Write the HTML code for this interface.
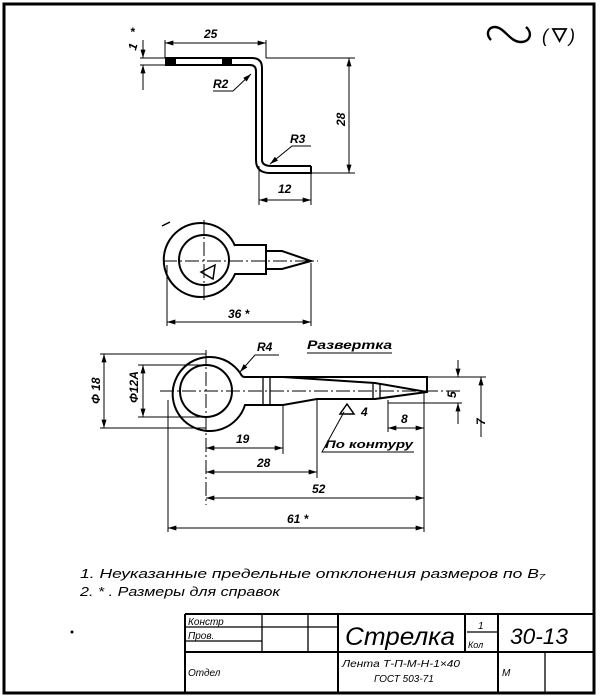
<!DOCTYPE html>
<html><head><meta charset="utf-8"><style>
html,body{margin:0;padding:0;background:#fff}
svg{display:block}
text{font-family:"Liberation Sans","DejaVu Sans",sans-serif;font-style:italic;fill:#000}
</style></head><body>
<svg width="602" height="700" viewBox="0 0 602 700" xmlns="http://www.w3.org/2000/svg">
<defs>
<marker id="a" viewBox="0 0 10 6" refX="10" refY="3" markerWidth="9" markerHeight="5" orient="auto-start-reverse"><path d="M0,0L10,3L0,6z" fill="#000"/></marker>
</defs>
<g fill="none" stroke="#000">
<rect x="4" y="4" width="590" height="689" stroke-width="3"/>
<g stroke-width="2">
<line x1="185" y1="614" x2="594" y2="614"/>
<line x1="185" y1="652" x2="594" y2="652"/>
<line x1="185" y1="614" x2="185" y2="693"/>
<line x1="338" y1="614" x2="338" y2="693"/>
<line x1="465" y1="614" x2="465" y2="652"/>
<line x1="498" y1="614" x2="498" y2="693"/>
</g>
<g stroke-width="1.3">
<line x1="185" y1="627" x2="338" y2="627"/>
<line x1="185" y1="641" x2="262" y2="641"/>
<line x1="262" y1="614" x2="262" y2="652"/>
<line x1="308" y1="614" x2="308" y2="652"/>
<line x1="545" y1="652" x2="545" y2="693"/>
<line x1="467" y1="632" x2="497" y2="632"/>
</g>

<g stroke-width="2">
<path d="M165,58 H252 Q262,58 262,68 V160 Q262,166 272,166 H311"/>
<path d="M165,65 H250 Q256,65 256,71 V160 Q256,173 270,173 H311 V166"/>
</g>
<rect x="165" y="58" width="11" height="7" fill="#000" stroke="none"/>
<rect x="222" y="58" width="10" height="7" fill="#000" stroke="none"/>
<g stroke-width="1">
<line x1="140" y1="58" x2="165" y2="58"/><line x1="140" y1="65" x2="165" y2="65"/>
<line x1="143" y1="40" x2="143" y2="58" marker-end="url(#a)"/>
<line x1="143" y1="90" x2="143" y2="65" marker-end="url(#a)"/>
<line x1="165" y1="40" x2="165" y2="58"/><line x1="266" y1="40" x2="266" y2="58"/>
<line x1="165" y1="43" x2="266" y2="43" marker-start="url(#a)" marker-end="url(#a)"/>
<line x1="266" y1="58" x2="355" y2="58"/><line x1="311" y1="173" x2="355" y2="173"/>
<line x1="349" y1="58" x2="349" y2="173" marker-start="url(#a)" marker-end="url(#a)"/>
<line x1="259" y1="166" x2="259" y2="205"/><line x1="311" y1="173" x2="311" y2="205"/>
<line x1="259" y1="200" x2="311" y2="200" marker-start="url(#a)" marker-end="url(#a)"/>
<polyline points="213,91 233,91 251,74" marker-end="url(#a)"/>
<polyline points="311,146 292,146 270,164" marker-end="url(#a)"/>
</g>

<g stroke-width="2">
<path d="M235,246 A37,37 0 1 0 235,274 L266,274 V245 L235,245"/>
<circle cx="204" cy="260" r="25"/>
<path d="M266,251 H282 L311,261 L282,269 H266"/>
</g>
<g stroke-width="1">
<line x1="163" y1="261" x2="318" y2="261" stroke-dasharray="14,3,2,3"/>
<line x1="204" y1="220" x2="204" y2="300" stroke-dasharray="14,3,2,3"/>
<line x1="167" y1="265" x2="167" y2="326"/><line x1="311" y1="263" x2="311" y2="326"/>
<line x1="167" y1="322" x2="311" y2="322" marker-start="url(#a)" marker-end="url(#a)"/>
<path d="M201,272 L215,265 L213,279 Z" stroke-width="1.5"/>
<line x1="162" y1="226" x2="170" y2="222" stroke-width="1.5"/>
</g>

<g stroke-width="2">
<path d="M242,376 A37,37 0 1 0 245,405 L283,405 L317,399 L375,399 L427,392 L427,377 H245 Q243,377 242,376"/>
<circle cx="206" cy="391" r="26"/>
<path d="M283,377 L375,383 L427,392"/>
<line x1="263" y1="377" x2="263" y2="405" stroke-width="1.3"/>
<line x1="270" y1="377" x2="270" y2="404" stroke-width="1.3"/>
<line x1="373" y1="382" x2="373" y2="399" stroke-width="1.3"/>
<line x1="380" y1="383" x2="380" y2="399" stroke-width="1.3"/>
</g>
<g stroke-width="1">
<line x1="160" y1="391" x2="460" y2="391" stroke-dasharray="14,3,2,3"/>
<line x1="206" y1="350" x2="206" y2="505" stroke-dasharray="14,3,2,3"/>
<line x1="100" y1="354" x2="206" y2="354"/><line x1="100" y1="428" x2="206" y2="428"/>
<line x1="104" y1="354" x2="104" y2="428" marker-start="url(#a)" marker-end="url(#a)"/>
<line x1="138" y1="365" x2="206" y2="365"/><line x1="138" y1="417" x2="206" y2="417"/>
<line x1="143" y1="365" x2="143" y2="417" marker-start="url(#a)" marker-end="url(#a)"/>
<polyline points="279,355 255,355 240,372" marker-end="url(#a)"/>
<line x1="307" y1="353" x2="392" y2="353"/>
<line x1="427" y1="377" x2="486" y2="377"/><line x1="388" y1="403" x2="462" y2="403"/>
<line x1="458" y1="360" x2="458" y2="377" marker-end="url(#a)"/>
<line x1="458" y1="424" x2="458" y2="403" marker-end="url(#a)"/>
<line x1="481" y1="377" x2="481" y2="437" marker-start="url(#a)"/>
<line x1="388" y1="400" x2="388" y2="432"/><line x1="424" y1="393" x2="424" y2="532"/>
<line x1="388" y1="428" x2="424" y2="428" marker-start="url(#a)" marker-end="url(#a)"/>
<path d="M347,404 L340,414 L354,414 Z" stroke-width="1.5"/>
<polyline points="344,412 322,452 414,452"/>
<line x1="283" y1="405" x2="283" y2="454"/>
<line x1="206" y1="448" x2="283" y2="448" marker-start="url(#a)" marker-end="url(#a)"/>
<line x1="317" y1="400" x2="317" y2="478"/>
<line x1="206" y1="472" x2="317" y2="472" marker-start="url(#a)" marker-end="url(#a)"/>
<line x1="206" y1="498" x2="424" y2="498" marker-start="url(#a)" marker-end="url(#a)"/>
<line x1="168" y1="400" x2="168" y2="532"/>
<line x1="168" y1="528" x2="424" y2="528" marker-start="url(#a)" marker-end="url(#a)"/>
</g>
<path d="M491,40 C484,33 490,24 499,28 C506,31 511,42 521,42 C530,42 533,33 526,27" stroke-width="2.4"/>
<path d="M553,29 L566,29 L559.5,41 Z" stroke-width="1.8"/>
</g>
<circle cx="72" cy="632" r="1.5" fill="#000"/>

<g font-size="12" font-weight="bold">
<text x="130" y="36">*</text>
<text x="129" y="50" transform="rotate(-75 133 46)">1</text>
<text x="204" y="38">25</text>
<text x="213" y="88">R2</text>
<text x="290" y="143">R3</text>
<text x="278" y="193">12</text>
<text x="0" y="0" transform="translate(345,126) rotate(-90)">28</text>
<text x="228" y="318">36 *</text>
<text x="257" y="351">R4</text>
<text x="307" y="349" textLength="85" lengthAdjust="spacingAndGlyphs">Развертка</text>
<text x="0" y="0" transform="translate(100,404) rotate(-90)">Φ 18</text>
<text x="0" y="0" transform="translate(138,403) rotate(-90)">Φ12A</text>
<text x="0" y="0" transform="translate(456,398) rotate(-90)">5</text>
<text x="0" y="0" transform="translate(485,425) rotate(-90)">7</text>
<text x="361" y="416">4</text>
<text x="401" y="423">8</text>
<text x="325" y="448" font-size="11" textLength="88" lengthAdjust="spacingAndGlyphs">По контуру</text>
<text x="236" y="443">19</text>
<text x="257" y="467">28</text>
<text x="312" y="493">52</text>
<text x="287" y="523">61 *</text>
<text x="542" y="42" font-size="18" font-weight="normal" font-style="normal">(</text>
<text x="569" y="42" font-size="18" font-weight="normal" font-style="normal">)</text>
</g>
<g font-size="13">
<text x="80" y="578" textLength="465" lengthAdjust="spacingAndGlyphs">1. Неуказанные предельные отклонения размеров по B₇</text>
<text x="80" y="596" textLength="200" lengthAdjust="spacingAndGlyphs">2. * . Размеры для справок</text>
</g>
<g font-size="10">
<text x="188" y="625">Констр</text>
<text x="188" y="639">Пров.</text>
<text x="188" y="676">Отдел</text>
<text x="478" y="629">1</text>
<text x="468" y="648" font-size="9">Кол</text>
<text x="342" y="667" textLength="118" lengthAdjust="spacingAndGlyphs">Лента Т-П-М-Н-1×40</text>
<text x="374" y="682">ГОСТ 503-71</text>
<text x="502" y="676">М</text>
</g>
<text x="345" y="645" font-size="25" textLength="110" lengthAdjust="spacingAndGlyphs">Стрелка</text>
<text x="510" y="644" font-size="22" textLength="58" lengthAdjust="spacingAndGlyphs">30-13</text>
</svg>
</body></html>
